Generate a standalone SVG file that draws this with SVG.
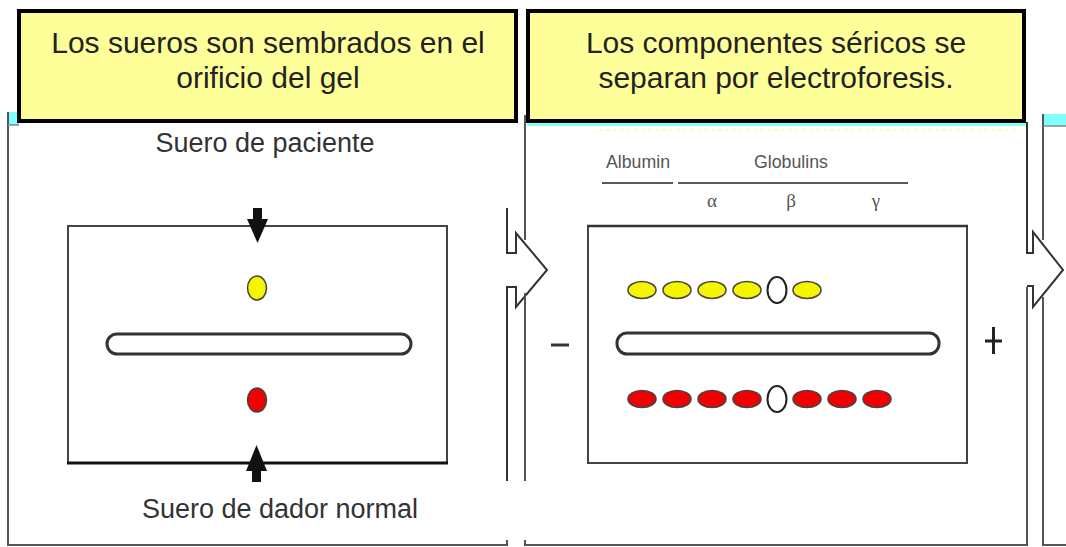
<svg xmlns="http://www.w3.org/2000/svg" width="1066" height="547" viewBox="0 0 1066 547">
<style>
.frame{fill:none;stroke:#555;stroke-width:2}
.head{fill:#FFFF99;stroke:#000;stroke-width:4}
.ht{font-family:"Liberation Sans",Arial,sans-serif;font-size:30px;fill:#222;text-anchor:middle}
.lt{font-family:"Liberation Sans",Arial,sans-serif;font-size:27px;fill:#333;text-anchor:middle}
.sm{font-family:"Liberation Sans",Arial,sans-serif;font-size:19px;fill:#555}
.gk{font-family:"Liberation Serif","Times New Roman",serif;font-size:19px;fill:#555;text-anchor:middle}
.gel{fill:#fff;stroke:#444;stroke-width:2}
.slot{fill:#fff;stroke:#333;stroke-width:3}
.yb{fill:#F5F500;stroke:#444;stroke-width:1.5}
.rb{fill:#F00000;stroke:#444;stroke-width:1.5}
.ob{fill:#fff;stroke:#222;stroke-width:2}
.cy{fill:#7FFFFF}
.conn{fill:none;stroke:#333;stroke-width:2;stroke-linejoin:miter}
</style>
<rect width="1066" height="547" fill="#fff"/>

<g id="panel1">
  <rect class="cy" x="7" y="112" width="12" height="13"/>
  <path class="frame" d="M8,112 V545 H507 V540"/>
  <line x1="8" y1="125" x2="19" y2="125" stroke="#888" stroke-width="1.5"/>
  <text class="lt" x="265" y="152">Suero de paciente</text>
  <g id="gel1">
    <rect class="gel" x="68" y="226" width="379" height="237"/>
    <line x1="67" y1="463" x2="448" y2="463" stroke="#111" stroke-width="3"/>
    <rect class="slot" x="107" y="334" width="304" height="20" rx="10"/>
    <ellipse class="yb" cx="257" cy="288" rx="9.5" ry="12"/>
    <ellipse class="rb" cx="257" cy="400" rx="9.5" ry="12"/>
    <path d="M253,208 H262 V219 H268 L257.5,243 L247,219 H253 Z" fill="#111"/>
    <path d="M252,482 H261 V471 H267 L256.5,445 L246,471 H252 Z" fill="#111"/>
  </g>
  <text class="lt" x="280" y="518">Suero de dador normal</text>
</g>

<g id="panel2">
  <rect class="cy" x="527" y="122" width="499" height="4"/>
  <line x1="600" y1="130" x2="1020" y2="130" stroke="#FFFF66" stroke-width="1.5" stroke-dasharray="2 5"/>
  <path class="frame" d="M525,540 V545 H1027 V287"/>
  <text class="sm" x="606" y="168" textLength="64" lengthAdjust="spacingAndGlyphs">Albumin</text>
  <text class="sm" x="754" y="168" textLength="74" lengthAdjust="spacingAndGlyphs">Globulins</text>
  <line x1="602" y1="183" x2="673" y2="183" stroke="#222" stroke-width="1.5"/>
  <line x1="678" y1="183" x2="908" y2="183" stroke="#222" stroke-width="1.5"/>
  <text class="gk" x="712" y="207">α</text>
  <text class="gk" x="791" y="207">β</text>
  <text class="gk" x="876" y="207">γ</text>
  <g id="gel2">
    <rect class="gel" x="588" y="226" width="379" height="237"/>
    <line x1="587" y1="226" x2="968" y2="226" stroke="#333" stroke-width="2.5"/>
    <rect class="slot" x="617" y="333" width="322" height="21" rx="10"/>
    <ellipse class="yb" cx="642" cy="290" rx="14" ry="8.5"/>
    <ellipse class="yb" cx="677" cy="290" rx="14" ry="8.5"/>
    <ellipse class="yb" cx="712" cy="290" rx="14" ry="8.5"/>
    <ellipse class="yb" cx="747" cy="290" rx="14" ry="8.5"/>
    <ellipse class="ob" cx="777" cy="290" rx="9.5" ry="13"/>
    <ellipse class="yb" cx="807" cy="290" rx="14" ry="8.5"/>
    <ellipse class="rb" cx="642" cy="399" rx="14" ry="8.5"/>
    <ellipse class="rb" cx="677" cy="399" rx="14" ry="8.5"/>
    <ellipse class="rb" cx="712" cy="399" rx="14" ry="8.5"/>
    <ellipse class="rb" cx="747" cy="399" rx="14" ry="8.5"/>
    <ellipse class="ob" cx="777" cy="399" rx="9.5" ry="13"/>
    <ellipse class="rb" cx="807" cy="399" rx="14" ry="8.5"/>
    <ellipse class="rb" cx="842" cy="399" rx="14" ry="8.5"/>
    <ellipse class="rb" cx="877" cy="399" rx="14" ry="8.5"/>
  </g>
  <line x1="551" y1="345" x2="569" y2="345" stroke="#333" stroke-width="3"/>
  <path d="M985,341 H1002 M993.5,327 V354" stroke="#222" stroke-width="3" fill="none"/>
</g>

<g id="panel3">
  <rect class="cy" x="1043" y="114" width="23" height="12"/>
  <path class="frame" d="M1043,114 V240 M1043,297 V545 H1066"/>
  <line x1="1043" y1="126" x2="1066" y2="126" stroke="#888" stroke-width="1.5"/>
</g>

<g id="connectors">
  <path class="conn" d="M507,208 V253 H516 V233 L547,270 L516,307 V287 H507 V481"/>
  <path class="frame" d="M525,115 V240 M525,293 V481"/>
  <path class="conn" d="M1027,122 V253 H1033 V232 L1063,270 L1033,307 V286 H1027"/>
</g>

<g id="head1">
  <rect class="head" x="19" y="11" width="497" height="110"/>
  <text class="ht" x="268" y="53">Los sueros son sembrados en el</text>
  <text class="ht" x="268" y="88">orificio del gel</text>
</g>
<g id="head2">
  <rect class="head" x="528" y="11" width="496" height="110"/>
  <text class="ht" x="776" y="53">Los componentes séricos se</text>
  <text class="ht" x="776" y="88">separan por electroforesis.</text>
</g>
</svg>
